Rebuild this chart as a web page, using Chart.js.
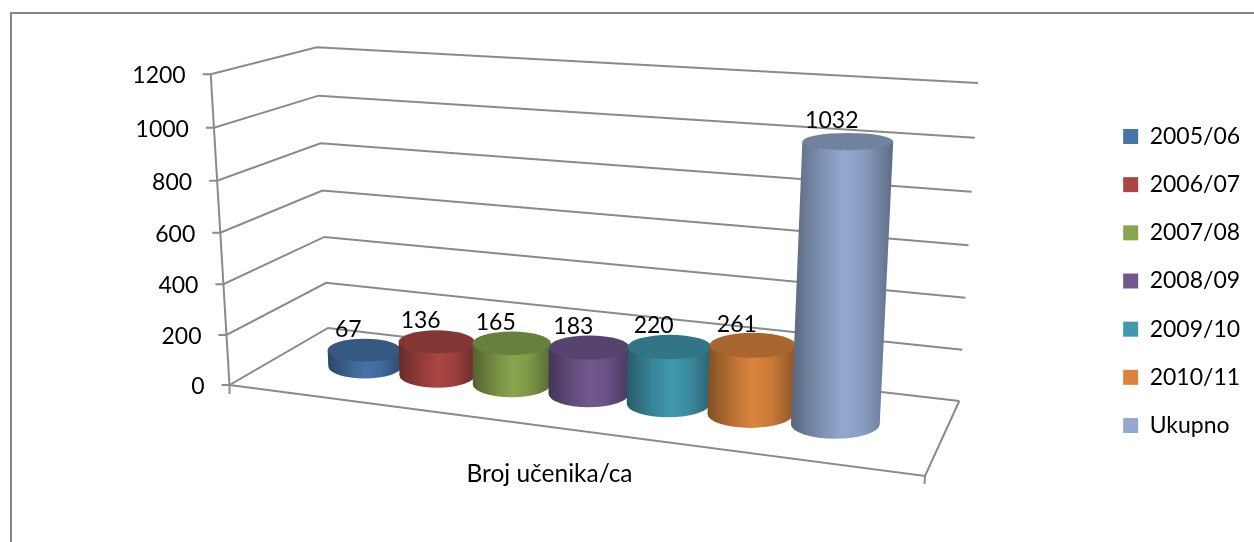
<!DOCTYPE html>
<html><head><meta charset="utf-8">
<style>html,body{margin:0;padding:0;background:#fff}canvas{display:block}</style>
<script src="https://cdn.jsdelivr.net/npm/chart.js@4/dist/chart.umd.min.js"></script>
</head><body><canvas id="c" width="1254" height="542"></canvas>
<script>
const categories = ['Broj učenika/ca'];
const seriesNames = ['2005/06','2006/07','2007/08','2008/09','2009/10','2010/11','Ukupno'];
const seriesValues = [67,136,165,183,220,261,1032];
const seriesColors = ['#4674A8','#AA4643','#89A54E','#71588F','#4198AF','#DB843D','#93A9CF'];
const yMin = 0, yMax = 1200, yStep = 200;

const FONT = 'Lato, "Open Sans", sans-serif';
const LINE = '#8a8a8a';
const DEPTH = 0.485;
// Perspective frame of the 3D box (layout only): front-left, front-right, back-right, back-left
const floorQuad = [[229.5,385],[925,476],[959.3,401],[328,328]];
const ceilQuad  = [[210.7,74.3],[942,118],[978,83],[316.7,47.3]];

function homography(q){
  const [[x0,y0],[x1,y1],[x2,y2],[x3,y3]] = q;
  const dx1=x1-x2,dx2=x3-x2,sx=x0-x1+x2-x3,dy1=y1-y2,dy2=y3-y2,sy=y0-y1+y2-y3;
  const den=dx1*dy2-dx2*dy1, g=(sx*dy2-dx2*sy)/den, h=(dx1*sy-sx*dy1)/den;
  const a=x1-x0+g*x1,b=x3-x0+h*x3,d=y1-y0+g*y1,e=y3-y0+h*y3;
  return (u,v)=>{const k=g*u+h*v+1;return [(a*u+b*v+x0)/k,(d*u+e*v+y0)/k];};
}
const Hf=homography(floorQuad), Hc=homography(ceilQuad);
function P(u,v,w){
  const t=w-0.04*w*(1-w), a=Hf(u,v), b=Hc(u,v);
  return [a[0]+(b[0]-a[0])*t, a[1]+(b[1]-a[1])*t];
}
function shade(hex,f){
  const n=parseInt(hex.slice(1),16);
  return `rgb(${Math.round((n>>16&255)*f)},${Math.round((n>>8&255)*f)},${Math.round((n&255)*f)})`;
}
function seg(ctx,pts){ctx.beginPath();pts.forEach((p,i)=>i?ctx.lineTo(p[0],p[1]):ctx.moveTo(p[0],p[1]));ctx.stroke();}

const plugin3d = {
  id:'plugin3d',
  afterLayout(chart){
    const L=chart.legend, dx=1098-L.left, dy=63-L.top;
    L.left+=dx;L.right+=dx;L.top+=dy;L.bottom+=dy;
  },
  beforeDatasetsDraw(chart){
    const ctx=chart.ctx, ys=chart.scales.y;
    const wOf=val=>(ys.bottom-ys.getPixelForValue(val))/(ys.bottom-ys.top);
    ctx.save();
    ctx.strokeStyle='#868686';ctx.lineWidth=2;
    seg(ctx,[[11,542],[11,13],[1254,13]]);
    ctx.strokeStyle=LINE;ctx.lineWidth=2;ctx.lineJoin='miter';
    seg(ctx,[P(0,0,0),P(0,0,1)]);
    ys.ticks.forEach(t=>{
      const w=wOf(t.value),a=P(0,0,w);
      seg(ctx,[[a[0]-8,a[1]],a,P(0,1,w),P(1,1,w)]);
    });
    // floor outline and outer stubs
    seg(ctx,[P(0,0,0),P(1,0,0),P(1,1,0)]);
    const fl=P(0,0,0),fr=P(1,0,0);
    seg(ctx,[fl,[fl[0],fl[1]+9]]);
    seg(ctx,[fr,[fr[0]-0.5,fr[1]+8]]);
    // value-axis labels follow the leaning axis
    ctx.fillStyle='#000';ctx.font='23px '+FONT;ctx.textAlign='right';ctx.textBaseline='middle';
    ys.ticks.forEach(t=>{
      const a=P(0,0,wOf(t.value));
      ctx.fillText(String(t.value),a[0]-25,a[1]+1.5);
    });
    ctx.restore();
  },
  beforeDatasetDraw(){return false;},
  afterDatasetsDraw(chart){
    const ctx=chart.ctx, ys=chart.scales.y, xs=chart.scales.x;
    const span=xs.right-xs.left;
    const items=[];
    chart.data.datasets.forEach((ds,i)=>{
      const bar=chart.getDatasetMeta(i).data[0];
      const u=(bar.x-xs.left)/span, du=(bar.width/2)/span;
      const w=(ys.bottom-ys.getPixelForValue(ds.data[0]))/(ys.bottom-ys.top);
      const col=ds.backgroundColor;
      const B=P(u,DEPTH,0), T=P(u,DEPTH,w);
      const rb=Math.hypot(P(u+du,DEPTH,0)[0]-P(u-du,DEPTH,0)[0],P(u+du,DEPTH,0)[1]-P(u-du,DEPTH,0)[1])/2;
      const rt=Math.hypot(P(u+du,DEPTH,w)[0]-P(u-du,DEPTH,w)[0],P(u+du,DEPTH,w)[1]-P(u-du,DEPTH,w)[1])/2;
      const kb=0.33, kt=0.32-0.15*w;
      const ryb=rb*kb, ryt=rt*kt;
      ctx.save();
      const g=ctx.createLinearGradient(Math.min(B[0]-rb,T[0]-rt),0,Math.max(B[0]+rb,T[0]+rt),0);
      g.addColorStop(0,shade(col,0.6));
      g.addColorStop(0.3,shade(col,0.86));
      g.addColorStop(0.52,shade(col,1));
      g.addColorStop(0.72,shade(col,0.92));
      g.addColorStop(1,shade(col,0.64));
      ctx.fillStyle=g;
      ctx.beginPath();
      ctx.moveTo(T[0]-rt,T[1]);
      ctx.lineTo(B[0]-rb,B[1]);
      ctx.ellipse(B[0],B[1],rb,ryb,0,Math.PI,0,true);
      ctx.lineTo(T[0]+rt,T[1]);
      ctx.closePath();
      ctx.fill();
      ctx.fillStyle=shade(col,0.77);
      ctx.beginPath();
      ctx.ellipse(T[0],T[1],rt,ryt,0,0,Math.PI*2);
      ctx.fill();
      ctx.restore();
      items.push({T,rt,v:ds.data[0]});
    });
    ctx.save();
    ctx.fillStyle='#000';ctx.font='23px '+FONT;ctx.textAlign='center';ctx.textBaseline='middle';
    items.forEach(o=>ctx.fillText(String(o.v),o.T[0]-16,o.T[1]-21));
    ctx.restore();
  }
};

new Chart(document.getElementById('c'),{
  type:'bar',
  data:{
    labels:categories,
    datasets:seriesNames.map((n,i)=>({label:n,data:[seriesValues[i]],backgroundColor:seriesColors[i],borderWidth:0}))
  },
  options:{
    responsive:false,animation:false,
    layout:{padding:{left:200,top:74,right:211,bottom:32}},
    datasets:{bar:{categoryPercentage:0.83,barPercentage:1.02}},
    scales:{
      x:{grid:{display:false},border:{display:false},
         afterFit(scale){scale.height=125;},
         ticks:{color:'#000',font:{family:FONT,size:24.5},padding:66,maxRotation:0}},
      y:{min:yMin,max:yMax,grid:{display:false},border:{display:false},
         ticks:{display:false,stepSize:yStep}}
    },
    plugins:{
      tooltip:{enabled:false},
      legend:{position:'right',labels:{color:'#000',font:{family:FONT,size:23},boxWidth:15,boxHeight:15,padding:25.17}}
    }
  },
  plugins:[plugin3d]
});
</script></body></html>
